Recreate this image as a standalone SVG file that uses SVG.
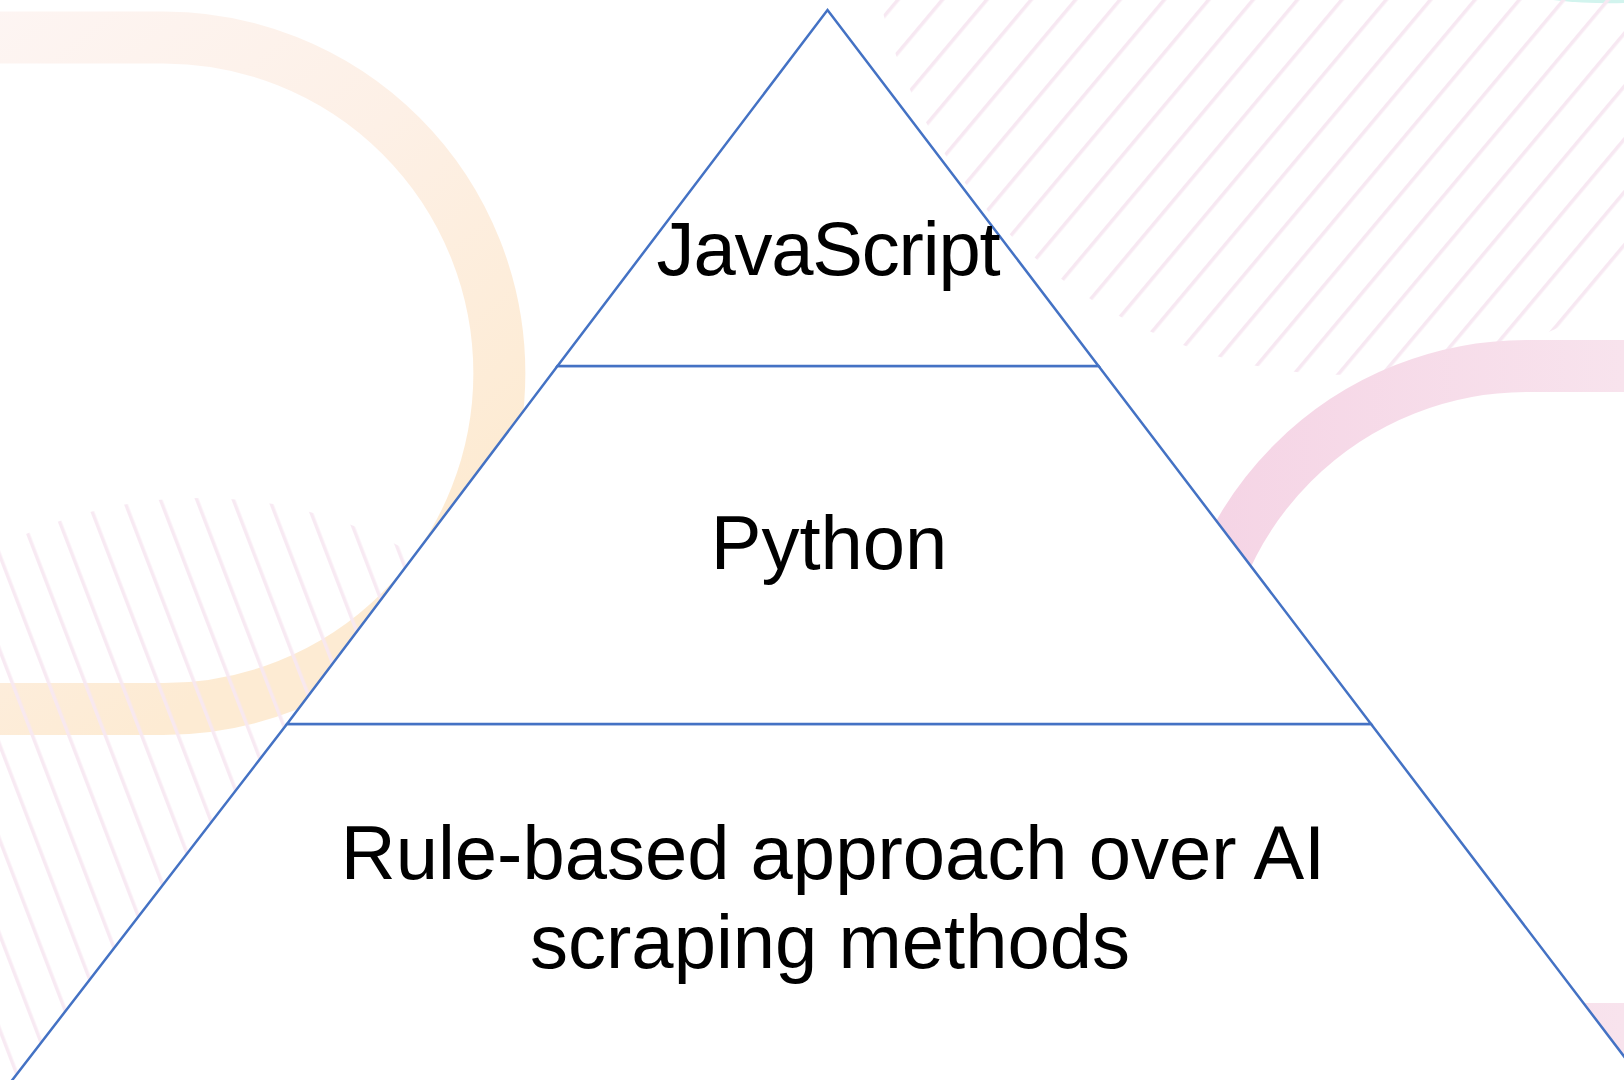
<svg xmlns="http://www.w3.org/2000/svg" width="1624" height="1080" viewBox="0 0 1624 1080">
  <defs>
    <linearGradient id="orangeGrad" gradientUnits="userSpaceOnUse" x1="0" y1="0" x2="420" y2="520">
      <stop offset="0" stop-color="#fdf5f3"/>
      <stop offset="0.5" stop-color="#fdf0e6"/>
      <stop offset="1" stop-color="#fdebd3"/>
    </linearGradient>
    <linearGradient id="pinkGrad" gradientUnits="userSpaceOnUse" x1="1200" y1="0" x2="1624" y2="0">
      <stop offset="0" stop-color="#f5d4e5"/>
      <stop offset="1" stop-color="#f8e3ed"/>
    </linearGradient>
    <pattern id="hatchTR" patternUnits="userSpaceOnUse" width="34" height="34" patternTransform="rotate(40)">
      <rect x="6" y="0" width="3.5" height="34" fill="#f7e8f2"/>
    </pattern>
    <pattern id="hatchBL" patternUnits="userSpaceOnUse" width="34" height="34" patternTransform="rotate(-21)">
      <rect x="3" y="0" width="3.5" height="34" fill="#f7e8f2"/>
    </pattern>
  </defs>
  <style>
    .level { fill: #ffffff; stroke: #4472c4; stroke-width: 2.5; stroke-linejoin: miter; }
    .label { font-family: "Liberation Sans", Arial, sans-serif; font-size: 76px; fill: #000000; text-anchor: middle; }
    .tight { letter-spacing: -1.2px; }
    .band { fill: none; stroke-width: 52; }
  </style>

  <rect x="0" y="0" width="1624" height="1080" fill="#ffffff"/>

  <g id="background">
    <path d="M1553,0 Q1590,4 1624,3 V0 Z" fill="#d2f4ee"/>
    <circle cx="1350" cy="-107" r="482" fill="url(#hatchTR)"/>
    <path class="band" d="M-60,37.5 H163.6 A335.75 335.75 0 0 1 163.6,709 H-60" stroke="url(#orangeGrad)"/>
    <circle cx="200" cy="936" r="438" fill="url(#hatchBL)" opacity="0.9"/>
    <path class="band" d="M1700,366 H1527 A331.5 331.5 0 0 0 1527,1029 H1700" stroke="url(#pinkGrad)"/>
  </g>

  <g id="level-3">
    <polygon class="level" points="287,724 1371,724 1741,1210 -88,1210"/>
    <text class="label"><tspan x="833" y="879">Rule-based approach over AI</tspan><tspan x="830" y="968">scraping methods</tspan></text>
  </g>
  <g id="level-2">
    <polygon class="level" points="557.5,366 1098.5,366 1371,724 287,724"/>
    <text class="label" x="829" y="569">Python</text>
  </g>
  <g id="level-1">
    <polygon class="level" points="827.5,10 1098.5,366 557.5,366"/>
    <text class="label tight" x="828" y="275">JavaScript</text>
  </g>

  <g id="connectors"></g>
</svg>
